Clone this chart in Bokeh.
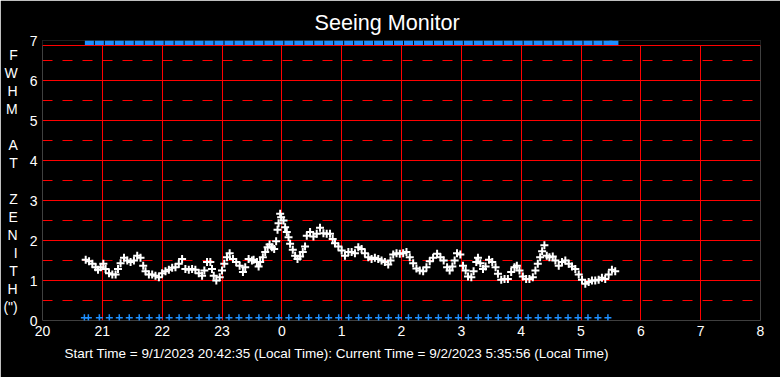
from bokeh.plotting import figure
from bokeh.models import FixedTicker, Span, Title
from bokeh.embed import file_html
from bokeh.resources import INLINE

title_text = "Seeing Monitor"
footer_text = "Start Time = 9/1/2023 20:42:35 (Local Time): Current Time = 9/2/2023 5:35:56 (Local Time)"
ylabel_chars = ["F", "W", "H", "M", "", "A", "T", "", "Z", "E", "N", "I", "T", "H", "(\")"]

x_ticks = [20, 21, 22, 23, 24, 25, 26, 27, 28, 29, 30, 31, 32]
x_tick_labels = ["20", "21", "22", "23", "0", "1", "2", "3", "4", "5", "6", "7", "8"]
y_ticks = [0, 1, 2, 3, 4, 5, 6, 7]
y_minor_ticks = [0.5, 1.5, 2.5, 3.5, 4.5, 5.5, 6.5]

# FWHM samples (hours since midnight of start day; >24 = next day)
fwhm_hours = [
    20.722, 20.778, 20.833, 20.888, 20.928, 20.972, 21.017, 21.055, 21.112, 21.167,
    21.222, 21.262, 21.305, 21.362, 21.417, 21.472, 21.528, 21.583, 21.638, 21.683,
    21.722, 21.778, 21.833, 21.888, 21.945, 22.000, 22.055, 22.112, 22.167, 22.222,
    22.278, 22.333, 22.388, 22.445, 22.500, 22.555, 22.612, 22.667, 22.705, 22.750,
    22.805, 22.833, 22.862, 22.905, 22.962, 23.000, 23.038, 23.083, 23.128, 23.183,
    23.238, 23.295, 23.350, 23.388, 23.445, 23.500, 23.528, 23.583, 23.612, 23.638,
    23.683, 23.722, 23.762, 23.795, 23.833, 23.872, 23.905, 23.928, 23.945, 23.972,
    23.988, 24.028, 24.055, 24.083, 24.112, 24.138, 24.183, 24.222, 24.262, 24.305,
    24.350, 24.388, 24.417, 24.472, 24.528, 24.583, 24.638, 24.695, 24.750, 24.805,
    24.850, 24.888, 24.945, 25.000, 25.055, 25.112, 25.167, 25.222, 25.278, 25.333,
    25.388, 25.445, 25.500, 25.555, 25.612, 25.667, 25.722, 25.778, 25.817, 25.862,
    25.917, 25.972, 26.028, 26.083, 26.138, 26.195, 26.250, 26.305, 26.362, 26.417,
    26.472, 26.528, 26.595, 26.650, 26.705, 26.762, 26.805, 26.850, 26.888, 26.928,
    26.983, 27.028, 27.072, 27.112, 27.167, 27.205, 27.250, 27.278, 27.317, 27.362,
    27.405, 27.462, 27.517, 27.572, 27.612, 27.667, 27.722, 27.778, 27.833, 27.888,
    27.928, 27.972, 28.028, 28.083, 28.138, 28.195, 28.238, 28.278, 28.317, 28.350,
    28.388, 28.428, 28.472, 28.528, 28.572, 28.628, 28.683, 28.738, 28.795, 28.850,
    28.905, 28.962, 29.017, 29.072, 29.128, 29.183, 29.238, 29.295, 29.350, 29.405,
    29.462, 29.517, 29.572,
]
fwhm_values = [
    1.52, 1.48, 1.42, 1.33, 1.27, 1.33, 1.42, 1.29, 1.18, 1.15,
    1.15, 1.29, 1.43, 1.57, 1.50, 1.46, 1.50, 1.62, 1.57, 1.37,
    1.23, 1.15, 1.15, 1.12, 1.08, 1.18, 1.23, 1.27, 1.32, 1.33,
    1.42, 1.54, 1.29, 1.27, 1.29, 1.27, 1.18, 1.12, 1.25, 1.46,
    1.46, 1.29, 1.12, 1.00, 1.08, 1.25, 1.42, 1.58, 1.68, 1.54,
    1.46, 1.37, 1.21, 1.33, 1.54, 1.50, 1.52, 1.46, 1.35, 1.46,
    1.58, 1.71, 1.83, 1.90, 1.83, 1.79, 1.98, 2.27, 2.43, 2.67,
    2.58, 2.50, 2.33, 2.21, 2.08, 1.92, 1.77, 1.62, 1.54, 1.60,
    1.71, 1.85, 2.12, 2.21, 2.10, 2.17, 2.32, 2.18, 2.17, 2.17,
    2.04, 1.93, 1.85, 1.75, 1.62, 1.71, 1.71, 1.68, 1.83, 1.79,
    1.68, 1.58, 1.54, 1.57, 1.54, 1.50, 1.46, 1.40, 1.50, 1.65,
    1.68, 1.67, 1.68, 1.71, 1.58, 1.43, 1.30, 1.25, 1.23, 1.33,
    1.48, 1.57, 1.67, 1.58, 1.50, 1.33, 1.25, 1.35, 1.50, 1.68,
    1.65, 1.37, 1.25, 1.10, 1.08, 1.23, 1.46, 1.57, 1.43, 1.29,
    1.35, 1.52, 1.46, 1.33, 1.17, 1.02, 1.04, 1.04, 1.21, 1.33,
    1.37, 1.25, 1.10, 1.04, 1.04, 1.08, 1.25, 1.42, 1.58, 1.73,
    1.88, 1.62, 1.58, 1.60, 1.50, 1.37, 1.46, 1.50, 1.42, 1.35,
    1.29, 1.15, 1.02, 0.92, 0.96, 1.00, 1.00, 1.02, 1.07, 1.04,
    1.15, 1.27, 1.23,
]

# status flags (minutes after 20:00)
low_flag_minutes = [
    42, 46, 57, 67, 77, 87, 97, 107, 117, 127, 137, 147, 157, 167, 177, 187, 197,
    207, 217, 227, 237, 247, 257, 267, 277, 287, 297, 307, 317, 327, 337, 347,
    357, 367, 377, 387, 397, 407, 417, 427, 437, 447, 457, 467, 477, 487, 497,
    507, 517, 527, 537, 547, 557, 567,
]
high_flag_minutes = [
    47, 57, 67, 77, 87, 97, 107, 117, 127, 137, 147, 157, 167, 177, 187, 197,
    207, 217, 227, 237, 247, 257, 267, 277, 287, 297, 307, 317, 327, 337, 347,
    357, 367, 377, 387, 397, 407, 417, 427, 437, 447, 457, 467, 477, 487, 497,
    507, 517, 527, 537, 547, 557, 567, 573,
]

low_flag_hours = [20 + m / 60 for m in low_flag_minutes]
high_flag_hours = [20 + m / 60 for m in high_flag_minutes]
LOW_LEVEL = 0.07
HIGH_LEVEL = 6.94
FRAME_TOP = 6.875

RED = "#ff0000"
BLUE = "#1e8fff"
FONT = "Liberation Sans"

p = figure(width=780, height=377, x_range=(20, 32), y_range=(0, 7),
           output_backend="svg", toolbar_location=None, title=None,
           min_border_left=40, min_border_right=20, min_border_top=40,
           min_border_bottom=57)
p.background_fill_color = "black"
p.border_fill_color = "black"
p.outline_line_color = None

p.xaxis.ticker = FixedTicker(ticks=x_ticks)
p.xaxis.major_label_overrides = {t: lab for t, lab in zip(x_ticks, x_tick_labels)}
p.yaxis.ticker = FixedTicker(ticks=y_ticks, minor_ticks=y_minor_ticks)
for ax in (p.xaxis[0], p.yaxis[0]):
    ax.axis_line_color = None
    ax.major_tick_line_color = None
    ax.minor_tick_line_color = None
    ax.major_tick_out = 0
    ax.minor_tick_out = 0
    ax.major_tick_in = 0
    ax.minor_tick_in = 0
    ax.major_label_text_color = "white"
    ax.major_label_text_font = FONT
    ax.major_label_text_font_size = "14px"
p.yaxis.major_label_standoff = 5
p.xaxis.major_label_standoff = 5

# vertical, letter-per-line y-axis label
p.yaxis.axis_label = "\n".join(ylabel_chars)
p.yaxis.axis_label_orientation = "horizontal"
p.yaxis.axis_label_text_color = "white"
p.yaxis.axis_label_text_font = FONT
p.yaxis.axis_label_text_font_size = "14px"
p.yaxis.axis_label_text_font_style = "normal"
p.yaxis.axis_label_text_line_height = 1.125
p.yaxis.axis_label_standoff = 9

p.xgrid.grid_line_color = RED
p.xgrid.grid_line_width = 1
p.ygrid.grid_line_color = RED
p.ygrid.grid_line_width = 1
p.ygrid.minor_grid_line_color = RED
p.ygrid.minor_grid_line_width = 1
p.ygrid.minor_grid_line_dash = "10 10"

# mask above the frame top
p.quad(left=[19], right=[33], bottom=[FRAME_TOP], top=[7.5], color="black", line_color=None)
p.add_layout(Span(location=FRAME_TOP, dimension="width", line_color=RED, line_width=1))

p.rect(high_flag_hours, [HIGH_LEVEL] * len(high_flag_hours), width=9, height=5,
       width_units="screen", height_units="screen", fill_color=BLUE, line_color=None)
p.scatter(low_flag_hours, [LOW_LEVEL] * len(low_flag_hours), marker="cross",
          size=7, line_color=BLUE, line_width=1.5)
p.scatter(fwhm_hours, fwhm_values, marker="cross", size=8, line_color="white",
          line_width=2)

p.add_layout(Title(text=title_text, align="left", offset=272, text_color="white",
                   text_font=FONT, text_font_size="21.6px", text_font_style="normal",
                   standoff=12), "above")
p.add_layout(Title(text=footer_text, align="left", offset=22, text_color="white",
                   text_font=FONT, text_font_size="13.5px", text_font_style="normal",
                   standoff=11), "below")

open("out.html", "w").write(file_html(p, INLINE))
